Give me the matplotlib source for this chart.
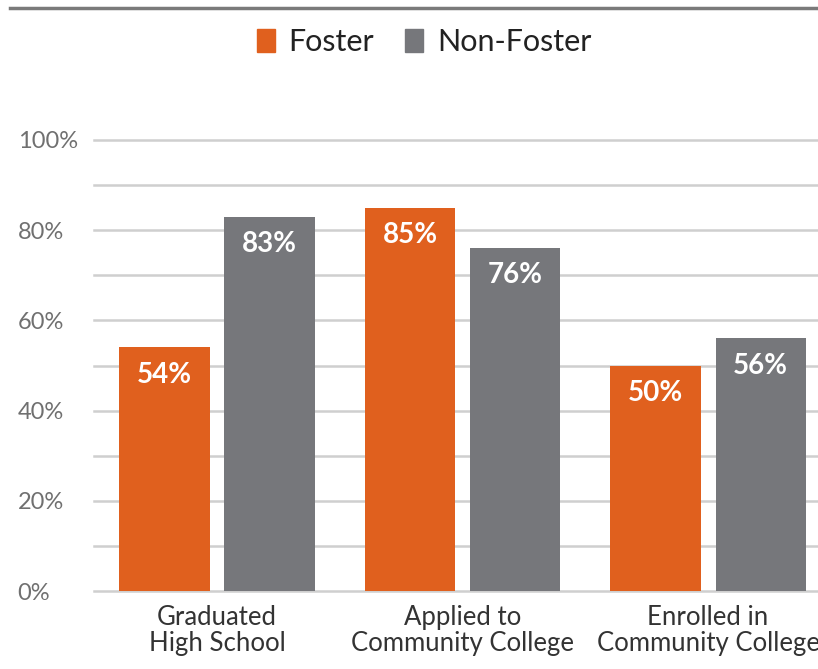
import matplotlib.pyplot as plt
import numpy as np
from matplotlib.lines import Line2D
from matplotlib.patches import Patch

plt.rcParams["font.family"] = ["Lato", "DejaVu Sans"]

categories = ["Graduated\nHigh School", "Applied to\nCommunity College", "Enrolled in\nCommunity College"]
foster = [54, 85, 50]
non_foster = [83, 76, 56]
yticks = [0, 20, 40, 60, 80, 100]
ytick_labels = ["0%", "20%", "40%", "60%", "80%", "100%"]

orange = "#E0601E"
gray = "#76777B"

fig = plt.figure(figsize=(8.18, 6.69), dpi=100)
ax = fig.add_axes([94 / 818, 1 - 591 / 669, 1 - 94 / 818, (591 - 140) / 669])

x = np.arange(len(categories))
w = 0.367
off = 0.214
b1 = ax.bar(x - off, foster, w, color=orange, zorder=3)
b2 = ax.bar(x + off, non_foster, w, color=gray, zorder=3)

for bars, vals in [(b1, foster), (b2, non_foster)]:
    for b, v in zip(bars, vals):
        ax.text(b.get_x() + b.get_width() / 2, v - 6, f"{v}%", ha="center", va="center",
                color="white", fontsize=20, fontweight="bold", zorder=4)

# horizontal gridlines every 10%
for g in range(0, 101, 10):
    ax.axhline(g, color="#cfcfcf", lw=1.8, zorder=0, clip_on=False)

ax.set_xlim(-0.501, 2.448)
ax.set_ylim(0, 100)
ax.set_yticks(yticks)
ax.set_yticklabels(ytick_labels, fontsize=17, color="#707070", ha="left")
ax.set_xticks(x)
ax.set_xticklabels(categories, fontsize=18.5, color="#333333", linespacing=1.05)
ax.tick_params(axis="both", which="both", length=0)
ax.tick_params(axis="y", pad=55)
ax.tick_params(axis="x", pad=10)
for s in ax.spines.values():
    s.set_visible(False)

# top rule
fig.add_artist(Line2D([10 / 818, 1], [1 - 8 / 669, 1 - 8 / 669], color="#7a7a7a", lw=2.5))

handles = [Patch(color=orange, label="Foster"), Patch(color=gray, label="Non-Foster")]
fig.legend(handles=handles, loc="center", bbox_to_anchor=(424 / 818, 1 - 42 / 669), ncol=2,
           frameon=False, fontsize=22, handlelength=0.59, handleheight=0.78,
           handletextpad=0.46, columnspacing=1.0, labelcolor="#222222")

fig.savefig("out.png", dpi=100)
